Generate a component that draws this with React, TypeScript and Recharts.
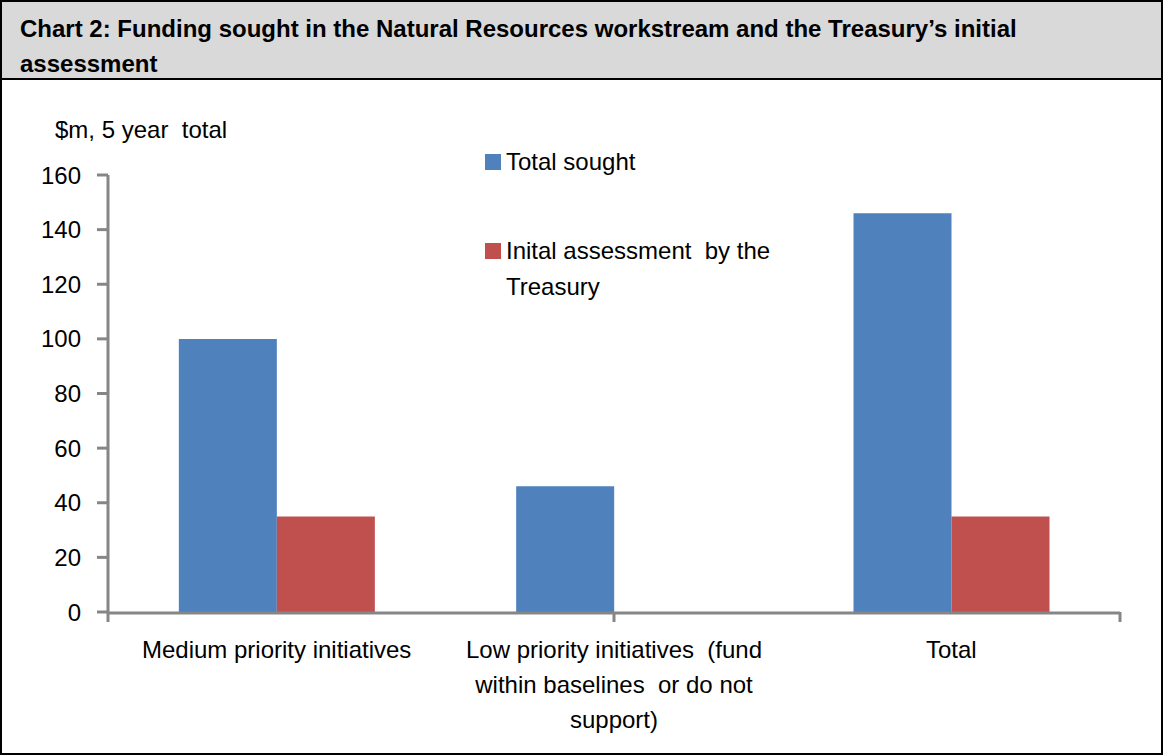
import React from "react";
import { Bar, BarChart, Legend, XAxis, YAxis } from "recharts";

const categories = [
  "Medium priority initiatives",
  "Low priority initiatives  (fund\nwithin baselines  or do not\nsupport)",
  "Total",
];
const totalSought = [100, 46, 146];
const treasuryAssessment = [35, 0, 35];
const yTicks = [0, 20, 40, 60, 80, 100, 120, 140, 160];
const edgeTicks = [0, 1, 2, 3];

const data = categories.map((name, i) => ({
  name,
  sought: totalSought[i],
  assessed: treasuryAssessment[i],
}));

const FONT = "'Liberation Sans Narrow', 'Arial Narrow', 'Liberation Sans', Arial, sans-serif";
const AXIS = "#868686";
const BLUE = "#4F81BD";
const RED = "#C0504D";

function CategoryTick(props: any) {
  const { x, y, payload } = props;
  const lines = String(payload.value).split("\n");
  return (
    <text x={x} y={y} textAnchor="middle" fill="#000" fontSize={24} fontFamily={FONT}>
      {lines.map((line, i) => (
        <tspan key={i} x={x} dy={i === 0 ? 37 : 35} style={{ whiteSpace: "pre" }}>
          {line}
        </tspan>
      ))}
    </text>
  );
}

function ChartLegend() {
  const item = (color: string, lines: string[], top: number) => (
    <div style={{ position: "absolute", left: 0, top, display: "flex" }}>
      <div style={{ width: 16, height: 16, background: color, marginTop: 10, marginRight: 5 }} />
      <div style={{ fontSize: 24, lineHeight: "36px", whiteSpace: "pre" }}>
        {lines.map((l, i) => (
          <div key={i}>{l}</div>
        ))}
      </div>
    </div>
  );
  return (
    <div style={{ position: "relative", fontFamily: FONT, width: 320, height: 150 }}>
      {item(BLUE, ["Total sought"], 0)}
      {item(RED, ["Inital assessment  by the", "Treasury"], 89)}
    </div>
  );
}

export default function App() {
  return (
    <div
      style={{
        position: "absolute",
        left: 0,
        top: 0,
        width: 1163,
        height: 755,
        boxSizing: "border-box",
        border: "2px solid #000",
        background: "#fff",
        fontFamily: FONT,
      }}
    >
      <div
        style={{
          height: 78,
          boxSizing: "border-box",
          background: "#D9D9D9",
          borderBottom: "2px solid #000",
          padding: "9px 0 0 18px",
          fontWeight: "bold",
          fontSize: 24,
          lineHeight: "35px",
          whiteSpace: "nowrap",
        }}
      >
        <div>Chart 2: Funding sought in the Natural Resources workstream and the Treasury’s initial</div>
        <div>assessment</div>
      </div>
      <div style={{ position: "absolute", left: 53, top: 114, fontSize: 24, whiteSpace: "pre" }}>
        $m, 5 year  total
      </div>
      <BarChart
        width={1159}
        height={673}
        data={data}
        margin={{ top: 95, right: 41, bottom: 0, left: 0 }}
        barGap={0}
        barCategoryGap="21%"
      >
        <XAxis
          xAxisId={0}
          type="number"
          domain={[0, 3]}
          ticks={edgeTicks}
          tick={<g />}
          axisLine={false}
          tickLine={{ stroke: AXIS, strokeWidth: 3 }}
          tickSize={10}
          height={1}
          allowDataOverflow
        />
        <XAxis
          xAxisId="cat"
          dataKey="name"
          interval={0}
          tickLine={false}
          axisLine={{ stroke: AXIS, strokeWidth: 3 }}
          tick={<CategoryTick />}
          height={140}
        />
        <YAxis
          domain={[0, 160]}
          ticks={yTicks}
          width={106}
          axisLine={{ stroke: AXIS, strokeWidth: 3 }}
          tickLine={{ stroke: AXIS, strokeWidth: 3 }}
          tickSize={11}
          tickMargin={16}
          tick={{ fill: "#000", fontSize: 24, fontFamily: FONT }}
        />
        <Legend
          layout="horizontal"
          verticalAlign="middle"
          align="center"
          content={<ChartLegend />}
          wrapperStyle={{ position: "absolute", left: 483, top: 64, width: 340 }}
        />
        <Bar xAxisId="cat" dataKey="sought" name="Total sought" fill={BLUE} isAnimationActive={false} />
        <Bar xAxisId="cat" dataKey="assessed" name="Inital assessment  by the Treasury" fill={RED} isAnimationActive={false} />
      </BarChart>
    </div>
  );
}
